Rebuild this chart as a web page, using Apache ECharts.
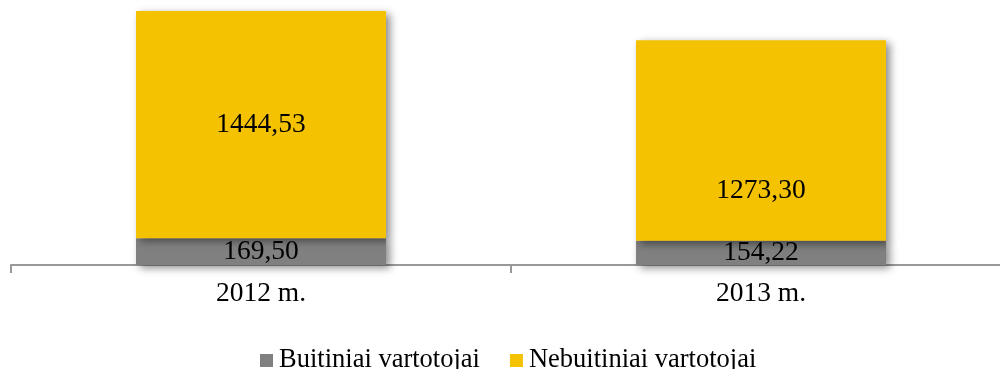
<!DOCTYPE html>
<html>
<head>
<meta charset="utf-8">
<script src="https://cdn.jsdelivr.net/npm/echarts@6/dist/echarts.min.js"></script>
<style>
  html, body { margin: 0; padding: 0; background: #fff; }
  #chart { width: 1000px; height: 369px; }
</style>
</head>
<body>
<div id="chart"></div>
<script type="text/javascript">
// duomenys
var years = ['2012 m.', '2013 m.'];
var buitiniai = [169.50, 154.22];
var nebuitiniai = [1444.53, 1273.30];
var seriesNames = ['Buitiniai vartotojai', 'Nebuitiniai vartotojai'];

var FONT = '"Liberation Serif", "Times New Roman", serif';
var FS = 27.5;

function fmt(p) {
    return p.value.toFixed(2).replace('.', ',');
}

var chart = echarts.init(document.getElementById('chart'));

var shadow = {
    shadowBlur: 8,
    shadowOffsetX: 4,
    shadowOffsetY: 3,
    shadowColor: 'rgba(0,0,0,0.45)'
};

// antros kategorijos etiketė Excel'yje pastumta žemyn
var nebData = nebuitiniai.map(function (v, i) {
    var item = { value: v };
    if (i === 1) item.label = { offset: [0, 50] };
    return item;
});

var option = {
    animation: false,
    textStyle: { fontFamily: FONT },
    grid: { left: 11, top: 11, bottom: 104, width: 1000, outerBoundsMode: 'none', containLabel: false },
    legend: {
        bottom: -10,
        left: 255,
        itemWidth: 13,
        itemHeight: 13,
        itemGap: 30,
        icon: 'rect',
        textStyle: { fontFamily: FONT, fontSize: 26.5, color: '#000', padding: [0, 0, 0, 1] },
        data: seriesNames
    },
    xAxis: {
        type: 'category',
        data: years,
        axisLine: { lineStyle: { color: '#999', width: 2 } },
        axisTick: { show: true, length: 8, lineStyle: { color: '#999', width: 2 } },
        axisLabel: { fontFamily: FONT, fontSize: FS, color: '#000', margin: 15 }
    },
    yAxis: {
        type: 'value',
        min: 0,
        max: function (v) { return v.max; },
        show: false,
        splitLine: { show: false }
    },
    series: [
        {
            name: seriesNames[0],
            type: 'bar',
            stack: 'total',
            barWidth: '50%',
            data: buitiniai,
            itemStyle: Object.assign({ color: '#808080' }, shadow),
            label: { show: true, position: 'inside', formatter: fmt, fontFamily: FONT, fontSize: FS, color: '#000' }
        },
        {
            name: seriesNames[1],
            type: 'bar',
            stack: 'total',
            barWidth: '50%',
            data: nebData,
            itemStyle: Object.assign({ color: '#F4C200' }, shadow),
            label: { show: true, position: 'inside', formatter: fmt, fontFamily: FONT, fontSize: FS, color: '#000' }
        }
    ]
};

chart.setOption(option);
</script>
</body>
</html>
